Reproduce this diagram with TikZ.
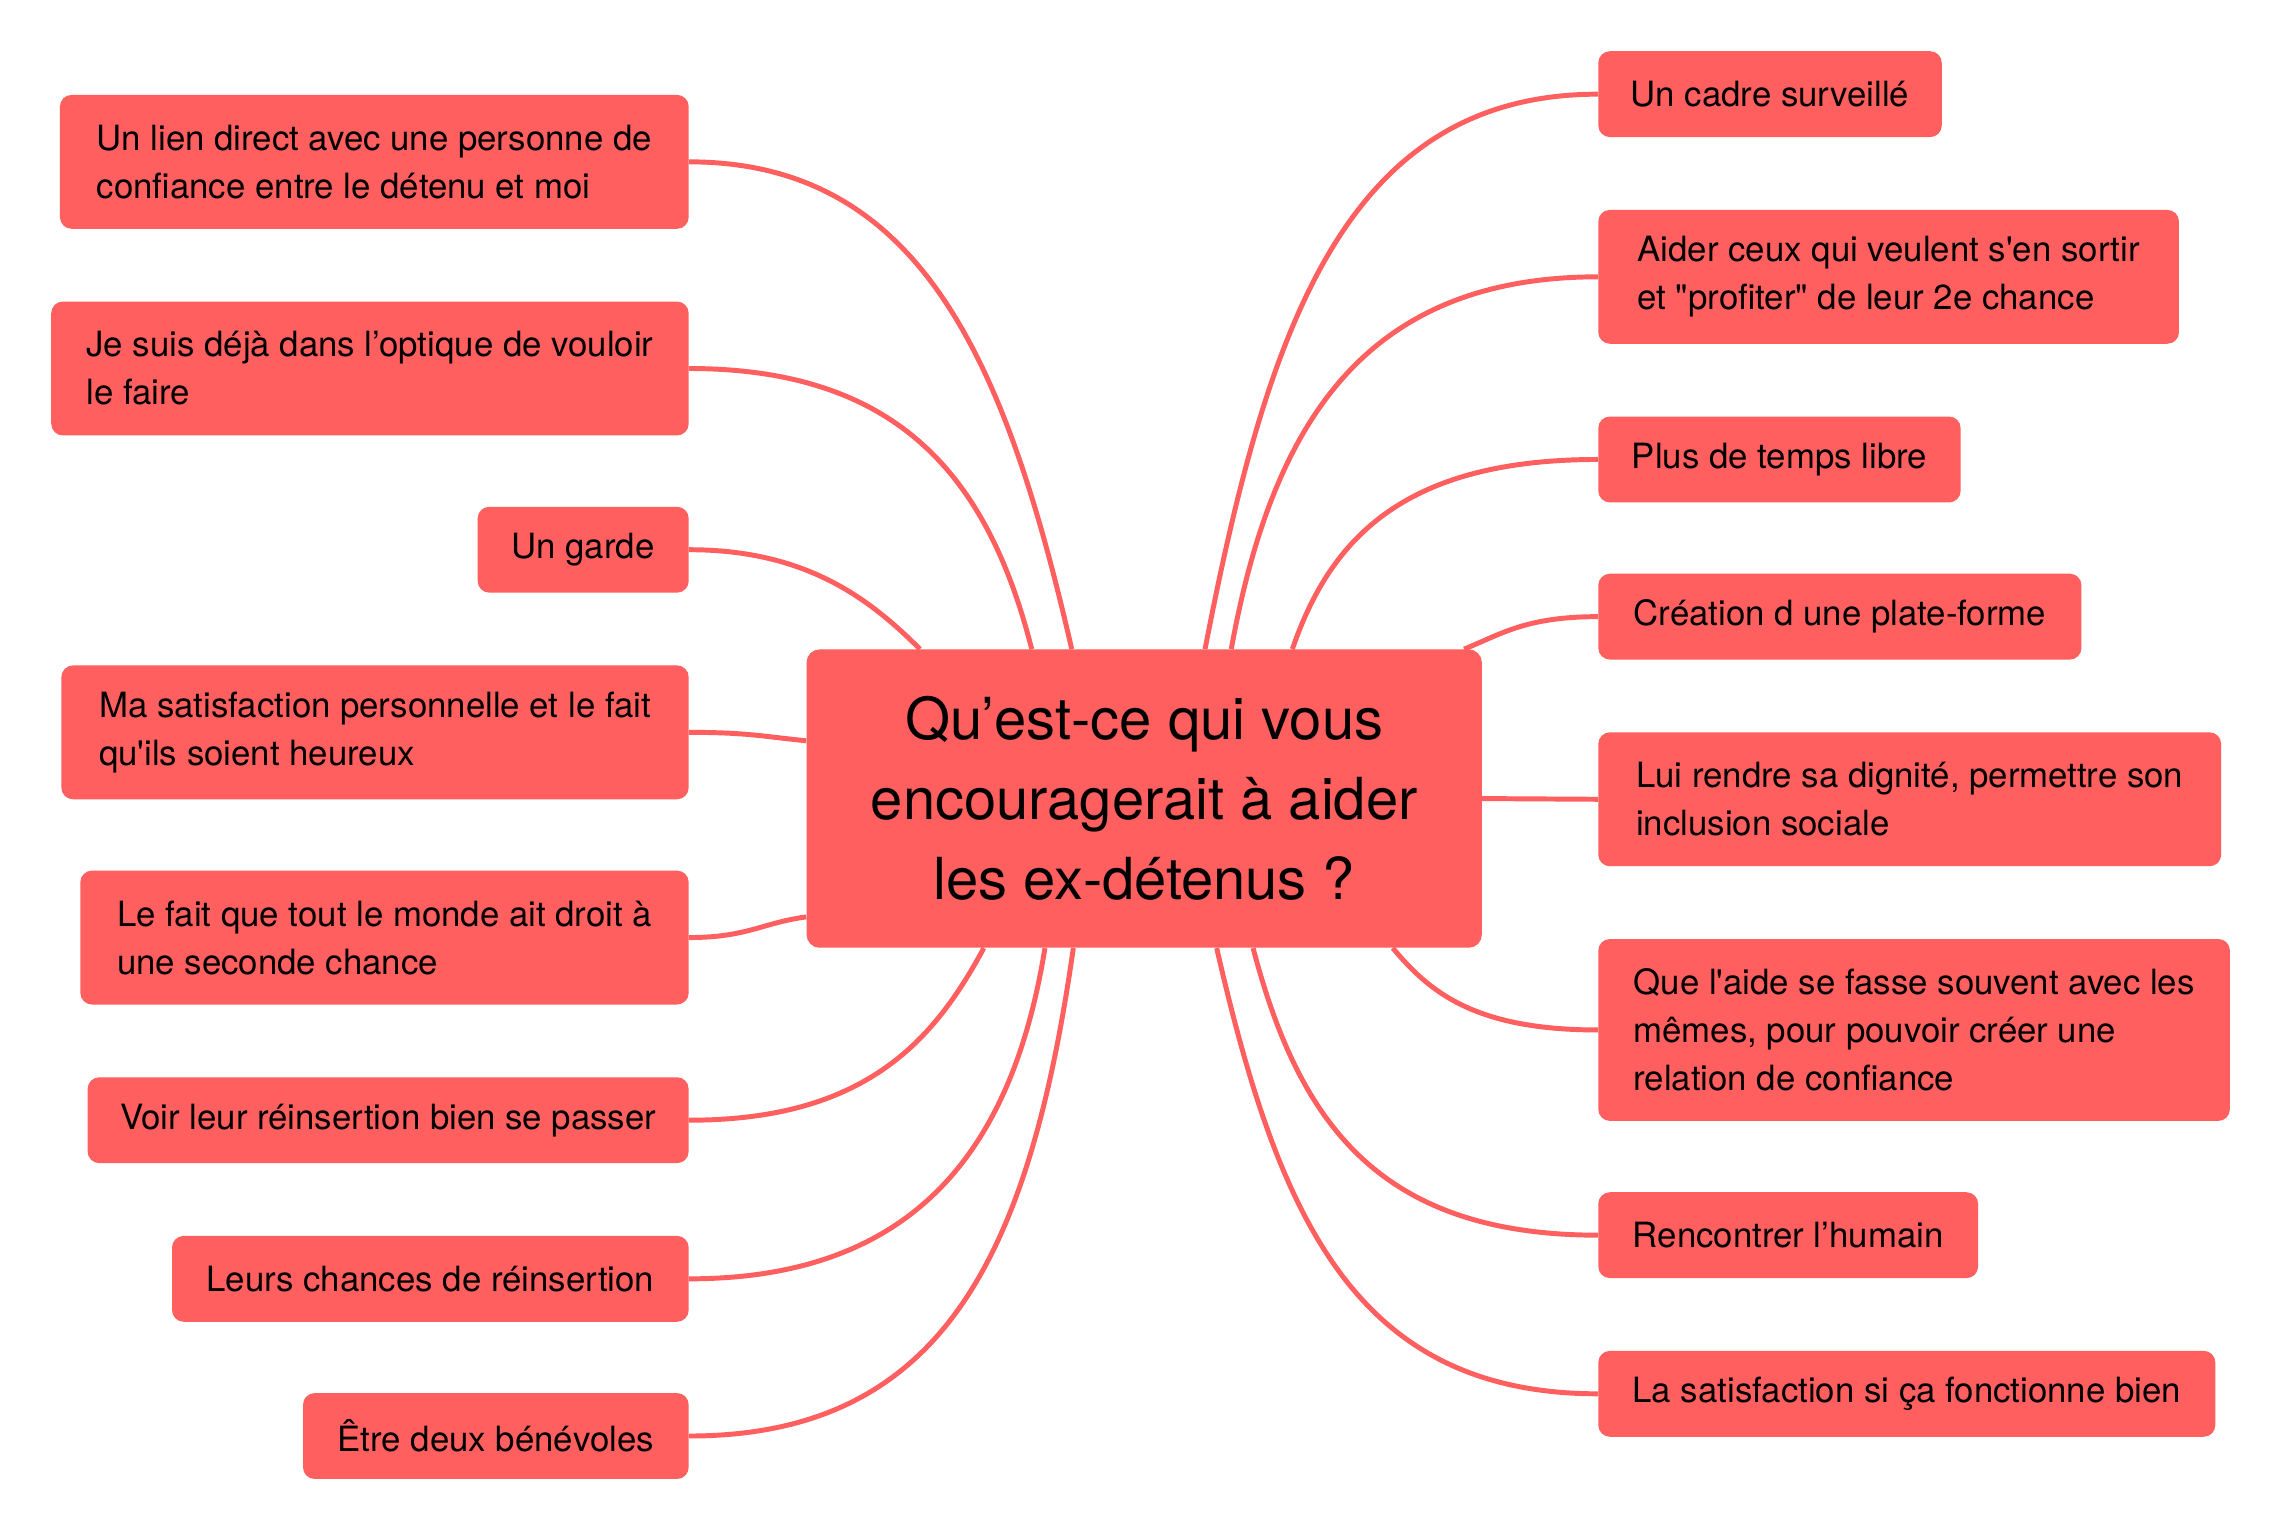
\documentclass[tikz,border=0pt]{standalone}
\usepackage{fontspec}
\setmainfont{TeX Gyre Heros}[Ligatures=TeXOff]
\usetikzlibrary{backgrounds,calc}
\definecolor{mmred}{RGB}{255,95,95}
\tikzset{
  leaf/.style={fill=mmred, rounded corners=8pt, inner xsep=0pt, inner ysep=0pt,
    align=left, font=\fontsize{23.9}{33}\selectfont, text=black, anchor=north west},
  hub/.style={fill=mmred, rounded corners=9pt, inner sep=0pt, align=center,
    font=\fontsize{39.8}{55}\selectfont, text=black, anchor=north west,
    minimum width=464pt, minimum height=205pt},
  conn/.style={draw=mmred, line width=3.4pt},
}
% #1 node, #2 anchor, #3 end, #4 first control offset, #5/#6 second control offset from end
\newcommand\mmlink[6]{%
  \draw[conn] (#1.#2) .. controls +(#4,0) and +(#5,#6) .. (#3);}
\begin{document}
\begin{tikzpicture}[x=1pt,y=-1pt]
\useasboundingbox (0,0) rectangle (1568,1052.67);
% hub
\node[hub] (C) at (554,446) {Qu’est-ce qui vous\\encouragerait à aider\\les ex-détenus ?};
% left
\node[leaf, minimum width=432pt, minimum height=92pt] (L1) at (41,65) {Un lien direct avec une personne de\\confiance entre le détenu et moi};
\node[leaf, minimum width=438pt, minimum height=92pt] (L2) at (35,207) {Je suis déjà dans l’optique de vouloir\\le faire\hphantom{ dans l’optique de vouloir}};
\node[leaf, minimum width=145pt, minimum height=59pt] (L3) at (328,348) {Un garde};
\node[leaf, minimum width=431pt, minimum height=92pt] (L4) at (42,457) {Ma satisfaction personnelle et le fait\\qu'ils soient heureux};
\node[leaf, minimum width=418pt, minimum height=92pt] (L5) at (55,598) {Le fait que tout le monde ait droit à\\une seconde chance};
\node[leaf, minimum width=413pt, minimum height=59pt] (L6) at (60,740) {Voir leur réinsertion bien se passer};
\node[leaf, minimum width=355pt, minimum height=59pt] (L7) at (118,849) {Leurs chances de réinsertion};
\node[leaf, minimum width=265pt, minimum height=59pt] (L8) at (208,957) {Être deux bénévoles};
% right
\node[leaf, minimum width=236pt, minimum height=59pt] (R1) at (1098,35) {Un cadre surveillé};
\node[leaf, minimum width=399pt, minimum height=92pt] (R2) at (1098,144) {Aider ceux qui veulent s'en sortir\\et "profiter" de leur 2e chance};
\node[leaf, minimum width=249pt, minimum height=59pt] (R3) at (1098,286) {Plus de temps libre};
\node[leaf, minimum width=332pt, minimum height=59pt] (R4) at (1098,394) {Création d une plate-forme};
\node[leaf, minimum width=428pt, minimum height=92pt] (R5) at (1098,503) {Lui rendre sa dignité, permettre son\\inclusion sociale};
\node[leaf, minimum width=434pt, minimum height=125pt] (R6) at (1098,645) {Que l'aide se fasse souvent avec les\\mêmes, pour pouvoir créer une\\relation de confiance};
\node[leaf, minimum width=261pt, minimum height=59pt] (R7) at (1098,819) {Rencontrer l’humain};
\node[leaf, minimum width=424pt, minimum height=59pt] (R8) at (1098,928) {La satisfaction si ça fonctionne bien};
% connector end points on the hub border
\coordinate (eL1) at ($(C.north west)+(182.4,0)$);
\coordinate (eL2) at ($(C.north west)+(154.9,0)$);
\coordinate (eL3) at ($(C.north west)+(78.1,0)$);
\coordinate (eL4) at ($(C.north west)+(0,63)$);
\coordinate (eL5) at ($(C.north west)+(0,184)$);
\coordinate (eL6) at ($(C.south west)+(122,0)$);
\coordinate (eL7) at ($(C.south west)+(164,0)$);
\coordinate (eL8) at ($(C.south west)+(183.5,0)$);
\coordinate (eR1) at ($(C.north west)+(274,0)$);
\coordinate (eR2) at ($(C.north west)+(292,0)$);
\coordinate (eR3) at ($(C.north west)+(334,0)$);
\coordinate (eR4) at ($(C.north west)+(452,0)$);
\coordinate (eR5) at (C.east);
\coordinate (eR6) at ($(C.south west)+(403,0)$);
\coordinate (eR7) at ($(C.south west)+(307,0)$);
\coordinate (eR8) at ($(C.south west)+(282,0)$);
\begin{pgfonlayer}{background}
\fill[white] (0,0) rectangle (1568,1052.67);
\mmlink{L1}{east}{eL1}{160}{-45}{-196}
\mmlink{L2}{east}{eL2}{144}{-30}{-118}
\mmlink{L3}{east}{eL3}{80}{-35}{-35}
\mmlink{L4}{east}{eL4}{40}{-30}{-3}
\mmlink{L5}{east}{eL5}{40}{-30}{4}
\mmlink{L6}{east}{eL6}{120}{-35}{65}
\mmlink{L7}{east}{eL7}{157}{-22}{136}
\mmlink{L8}{east}{eL8}{175}{-30}{210}
\mmlink{R1}{west}{eR1}{-173}{43}{-222}
\mmlink{R2}{west}{eR2}{-161}{28}{-154}
\mmlink{R3}{west}{eR3}{-130}{27}{-79}
\mmlink{R4}{west}{eR4}{-50}{25}{-10}
\draw[conn] (R5.west) -- (eR5);
\mmlink{R6}{west}{eR6}{-85}{25}{30}
\mmlink{R7}{west}{eR7}{-152}{31}{118}
\mmlink{R8}{west}{eR8}{-168}{42}{183}
\end{pgfonlayer}
\end{tikzpicture}
\end{document}
